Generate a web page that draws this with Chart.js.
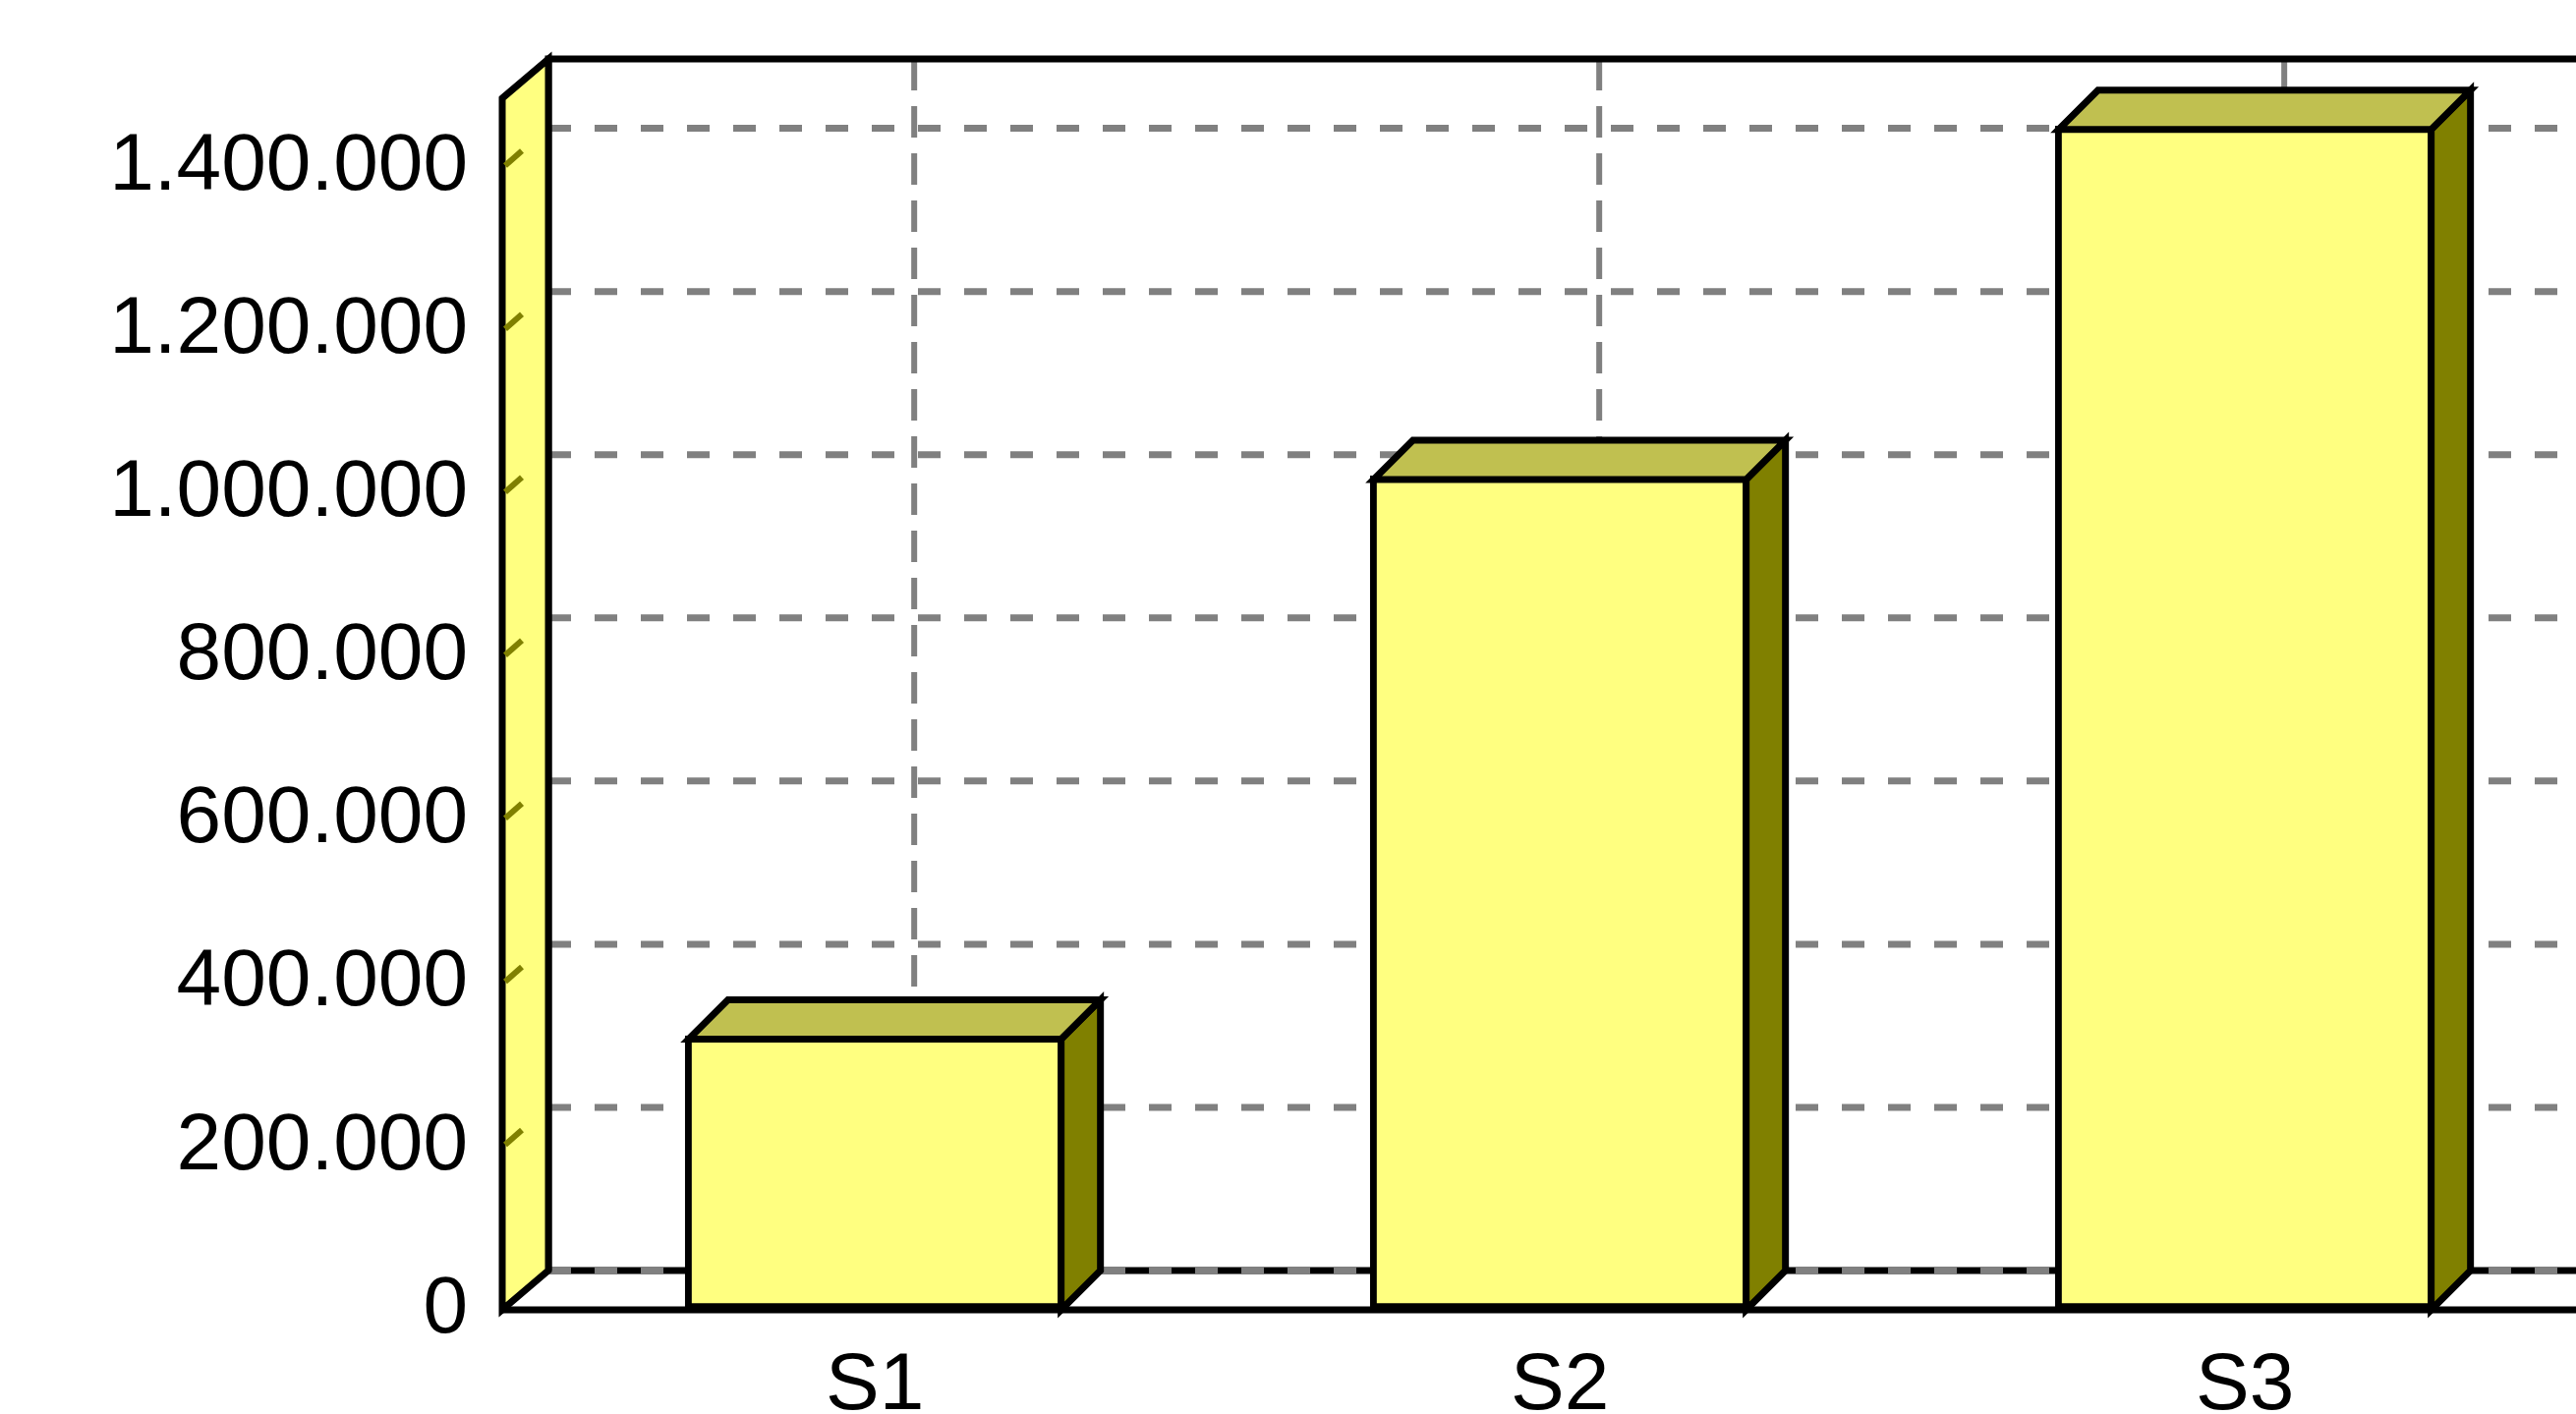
<!DOCTYPE html>
<html>
<head>
<meta charset="utf-8">
<title>3D bar chart</title>
<script src="https://cdn.jsdelivr.net/npm/chart.js@4.4.1/dist/chart.umd.min.js"></script>
<style>
  html, body { margin: 0; padding: 0; background: #fff; overflow: hidden; }
  #wrap { width: 2621px; height: 1439px; overflow: hidden; }
  canvas { display: block; }
</style>
</head>
<body>
<div id="wrap"><canvas id="chart" width="3200" height="1439"></canvas></div>
<script>
// ---- data ----
const categories = ['S1', 'S2', 'S3'];
const values = [336000, 1022000, 1451000];
const yTicks = [0, 200000, 400000, 600000, 800000, 1000000, 1200000, 1400000];

// ---- look ----
const FRONT = '#FFFF80';
const TOP = '#C0C050';
const SIDE = '#808000';
const GRID = '#808080';
const LINE = 7;
const WALL_DX = 47, BAR_DX = 40, DEPTH_DY = 40;
const FONT = { family: "'Liberation Sans', Arial, sans-serif", size: 82 };

// 1400000 -> "1.400.000"
function fmt(v) {
    return String(v).replace(/\B(?=(\d{3})+(?!\d))/g, '.');
}

function poly(ctx, pts, fill) {
    ctx.beginPath();
    ctx.moveTo(pts[0][0], pts[0][1]);
    for (let i = 1; i < pts.length; i++) ctx.lineTo(pts[i][0], pts[i][1]);
    ctx.closePath();
    ctx.fillStyle = fill;
    ctx.fill();
    ctx.setLineDash([]);
    ctx.strokeStyle = '#000';
    ctx.lineWidth = LINE;
    ctx.lineJoin = 'miter';
    ctx.stroke();
}

function hline(ctx, x1, x2, y, color, dash, width) {
    ctx.beginPath();
    ctx.setLineDash(dash);
    ctx.strokeStyle = color;
    ctx.lineWidth = width;
    ctx.moveTo(x1, y);
    ctx.lineTo(x2, y);
    ctx.stroke();
}

// back wall, left wall, floor edge and grid
const walls = {
    id: 'walls',
    beforeDatasetsDraw(chart) {
        const { ctx, chartArea: a, scales: { x, y } } = chart;
        const bl = a.left + WALL_DX;
        const bt = a.top - DEPTH_DY;
        const bb = a.bottom - DEPTH_DY;
        const right = chart.width;
        ctx.save();

        // value grid on the back wall
        yTicks.forEach(t => {
            const py = y.getPixelForValue(t) - DEPTH_DY;
            if (t === 0) hline(ctx, bl, right, py, '#000', [], LINE);
            hline(ctx, bl, right, py, GRID, [23, 24], LINE);
        });

        // category grid on the back wall
        categories.forEach((c, i) => {
            const px = x.getPixelForValue(i) + BAR_DX;
            ctx.beginPath();
            ctx.setLineDash([32, 16]);
            ctx.strokeStyle = GRID;
            ctx.lineWidth = 6;
            ctx.moveTo(px, bt);
            ctx.lineTo(px, bb);
            ctx.stroke();
        });

        // back wall border
        ctx.setLineDash([]);
        ctx.strokeStyle = '#000';
        ctx.lineWidth = LINE;
        ctx.beginPath();
        ctx.moveTo(right, bt);
        ctx.lineTo(bl, bt);
        ctx.lineTo(bl, bb);
        ctx.stroke();

        // left wall
        poly(ctx, [[a.left, a.top], [bl, bt], [bl, bb], [a.left, a.bottom]], FRONT);

        // little tick marks on the left wall
        yTicks.filter(t => t > 0).forEach(t => {
            const py = y.getPixelForValue(t);
            ctx.beginPath();
            ctx.strokeStyle = SIDE;
            ctx.lineWidth = 6;
            ctx.moveTo(a.left + 3, py - 2);
            ctx.lineTo(a.left + 20, py - 17);
            ctx.stroke();
        });

        // front edge of the floor
        hline(ctx, a.left, right, a.bottom, '#000', [], LINE);
        ctx.restore();
    },
    afterDatasetsDraw(chart) {
        const ctx = chart.ctx;
        const h = LINE / 2;
        ctx.save();
        chart.getDatasetMeta(0).data.forEach(bar => {
            const p = bar.getProps(['x', 'y', 'base', 'width'], true);
            const L = p.x - p.width / 2 + h;
            const R = p.x + p.width / 2 - h;
            const T = p.y + h;
            const B = p.base;
            poly(ctx, [[R, T], [R + BAR_DX, T - DEPTH_DY], [R + BAR_DX, B - DEPTH_DY], [R, B]], SIDE);
            poly(ctx, [[L, T], [L + BAR_DX, T - DEPTH_DY], [R + BAR_DX, T - DEPTH_DY], [R, T]], TOP);
        });
        ctx.restore();
    }
};

new Chart(document.getElementById('chart').getContext('2d'), {
    type: 'bar',
    data: {
        datasets: [{
            data: values.map((v, i) => ({ x: i, y: v })),
            backgroundColor: FRONT,
            borderColor: '#000',
            borderWidth: LINE,
            borderSkipped: false,
            barThickness: 386
        }]
    },
    options: {
        responsive: false,
        animation: false,
        devicePixelRatio: 1,
        layout: { padding: { top: 100, left: 0, right: 0, bottom: 0 } },
        plugins: {
            legend: { display: false },
            tooltip: { enabled: false }
        },
        scales: {
            x: {
                type: 'linear',
                offset: false,
                min: -0.544,
                max: 3.314,
                grid: { display: false, drawTicks: false },
                border: { display: false },
                afterBuildTicks: s => { s.ticks = categories.map((c, i) => ({ value: i })); },
                afterFit: s => { s.height = 106; },
                ticks: {
                    callback: v => categories[v],
                    padding: 29,
                    autoSkip: false,
                    maxRotation: 0,
                    color: '#000',
                    font: FONT
                }
            },
            y: {
                type: 'linear',
                min: 0,
                max: 1485000,
                grid: { display: false, drawTicks: false },
                border: { display: false },
                afterBuildTicks: s => { s.ticks = yTicks.map(v => ({ value: v })); },
                afterFit: s => { s.width = 511; },
                ticks: {
                    callback: v => fmt(v),
                    padding: 35,
                    color: '#000',
                    font: FONT
                }
            }
        }
    },
    plugins: [walls]
});
</script>
</body>
</html>
